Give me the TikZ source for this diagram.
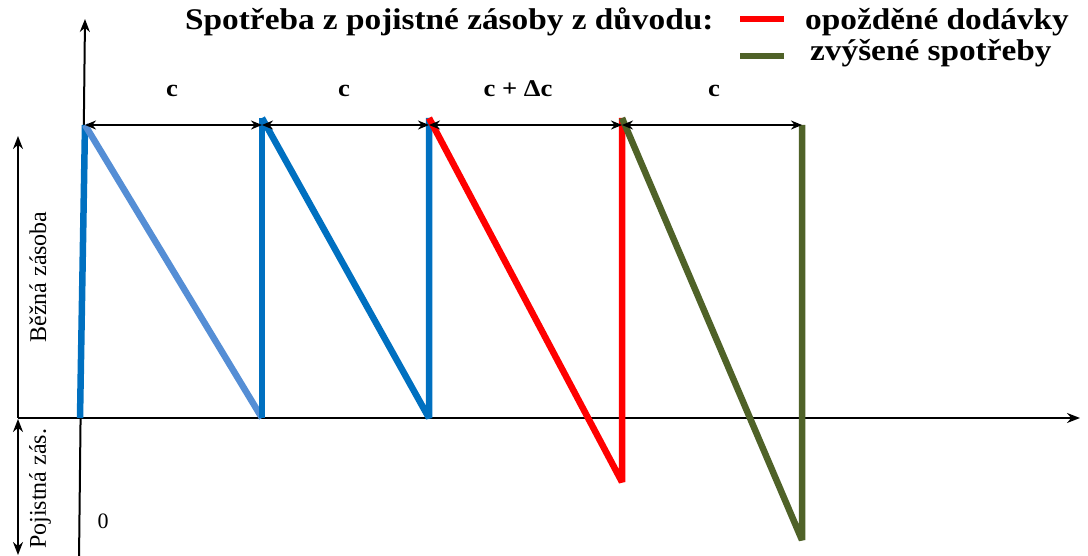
\documentclass[tikz,border=0pt]{standalone}
\usepackage{fontspec}
\setmainfont{Liberation Serif}
\newfontfamily\tnrwide[FakeStretch=1.11]{Liberation Serif}
\usetikzlibrary{arrows.meta}
\definecolor{sblue}{HTML}{0070C0}
\definecolor{lblue}{HTML}{558ED5}
\definecolor{sred}{HTML}{FF0000}
\definecolor{sgreen}{HTML}{4F6228}
\begin{document}
\begin{tikzpicture}[x=1pt,y=-1pt,
  axis/.style={line width=2pt,-{Stealth[length=13pt,width=10pt]}},
  dimarrow/.style={line width=1.8pt,{Stealth[length=11pt,width=9pt]}-{Stealth[length=11pt,width=9pt]}},
  saw/.style={line width=6.5pt,line join=bevel},
  legline/.style={line width=6pt},
  ttl/.style={font=\tnrwide\bfseries\fontsize{30}{30}\selectfont,inner sep=0pt,anchor=base west},
  lbl/.style={font=\tnrwide\bfseries\fontsize{24}{24}\selectfont,inner sep=0pt,anchor=base},
  axlbl/.style={font=\fontsize{24}{24}\selectfont,inner sep=0pt,rotate=90},
]
\useasboundingbox (0,0) rectangle (1088,556);
% coordinates
\coordinate (ybot) at (79,560);
\coordinate (ytop) at (85,19);
\coordinate (xl) at (18,418);
\coordinate (xr) at (1080,418);
\coordinate (o0) at (80,418);
\coordinate (t0) at (85,125);
\coordinate (b1) at (262,418);
\coordinate (t1) at (262,118);
\coordinate (b2) at (429,418);
\coordinate (t2) at (429,118);
\coordinate (b3) at (622,482);
\coordinate (t3) at (622,118);
\coordinate (b4) at (802,540);
\coordinate (t4) at (802,125);
\coordinate (d0) at (85,125);
\coordinate (d1) at (262,125);
\coordinate (d2) at (429,125);
\coordinate (d3) at (622,125);
\coordinate (d4) at (802,125);
\coordinate (lu0) at (18,418);
\coordinate (lu1) at (18,136);
\coordinate (ll0) at (18,419);
\coordinate (ll1) at (18,555);
\coordinate (rl0) at (740,19);
\coordinate (rl1) at (784,19);
\coordinate (gl0) at (740,56);
\coordinate (gl1) at (784,56);
% axes
\draw[axis] (ybot) -- (ytop);
\draw[axis] (xl) -- (xr);
\draw[axis] (lu0) -- (lu1);
\draw[line width=2pt,{Stealth[length=13pt,width=10pt]}-{Stealth[length=13pt,width=10pt]}] (ll0) -- (ll1);
% sawtooth
\draw[saw,sblue] (o0) -- (t0);
\draw[saw,lblue] (t0) -- (b1);
\draw[saw,sblue] (b1) -- (t1);
\draw[saw,sblue] (t1) -- (b2) -- (t2);
\draw[saw,sred] (t2) -- (b3) -- (t3);
\draw[saw,sgreen] (t3) -- (b4) -- (t4);
% dimension arrows
\draw[dimarrow] (d0) -- (d1);
\draw[dimarrow] (d1) -- (d2);
\draw[dimarrow] (d2) -- (d3);
\draw[dimarrow] (d3) -- (d4);
\node[lbl] (c1) at (172,97) {c};
\node[lbl] (c2) at (344,97) {c};
\node[lbl] (c3) at (518,97) {c + Δc};
\node[lbl] (c4) at (714,97) {c};
% title and legend
\node[ttl] (title) at (185,30) {Spotřeba z pojistné zásoby z důvodu:};
\draw[legline,sred] (rl0) -- (rl1);
\draw[legline,sgreen] (gl0) -- (gl1);
\node[ttl] (leg1) at (805,30) {opožděné dodávky};
\node[ttl] (leg2) at (810,61) {zvýšené spotřeby};
% axis labels
\node[axlbl] (bz) at (38,277) {Běžná zásoba};
\node[axlbl] (pz) at (40,489) {Pojistná zás.};
\node[font=\fontsize{22}{22}\selectfont,inner sep=0pt] (zero) at (103,521) {0};
\end{tikzpicture}
\end{document}
